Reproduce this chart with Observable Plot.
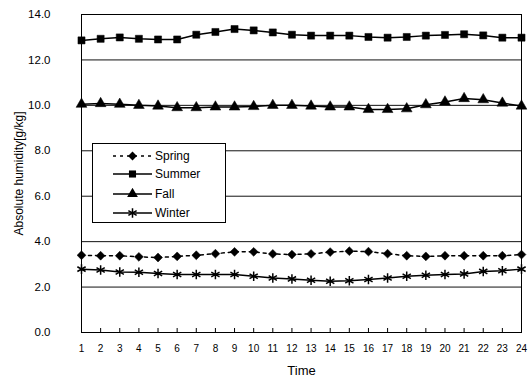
<!DOCTYPE html>
<html><head><meta charset="utf-8">
<script src="https://cdn.jsdelivr.net/npm/d3@7"></script>
<script src="https://cdn.jsdelivr.net/npm/@observablehq/plot@0.6"></script>
<style>
body{margin:0;background:#fff;font-family:"Liberation Sans",Arial,sans-serif;}
#wrap{position:relative;width:528px;height:385px;}
#legend{position:absolute;left:92px;top:143px;width:132px;height:78px;border:1px solid #000;background:#fff;box-sizing:content-box;}
.row{position:absolute;left:0;height:16px;display:flex;align-items:center;font-size:12px;color:#000;}
.row svg{margin-left:20px;margin-right:3px;}
</style></head><body><div id="wrap"></div>
<script>
const hours = [1,2,3,4,5,6,7,8,9,10,11,12,13,14,15,16,17,18,19,20,21,22,23,24];
const yTicks = [0,2,4,6,8,10,12,14];
const gridValues = [2,4,6,8,10,12];
const seasons = ["Spring","Summer","Fall","Winter"];
const spring = [3.40,3.38,3.38,3.33,3.30,3.35,3.40,3.47,3.55,3.55,3.46,3.43,3.46,3.54,3.58,3.56,3.47,3.38,3.35,3.38,3.38,3.38,3.38,3.43];
const summer = [12.86,12.93,12.99,12.93,12.90,12.90,13.11,13.23,13.36,13.30,13.21,13.11,13.07,13.07,13.07,13.01,12.98,13.01,13.07,13.10,13.13,13.08,12.98,12.98];
const fall   = [10.05,10.08,10.05,10.00,9.97,9.90,9.90,9.93,9.93,9.95,10.00,10.00,9.97,9.93,9.93,9.82,9.82,9.85,10.03,10.15,10.30,10.25,10.10,9.97];
const winter = [2.79,2.75,2.66,2.65,2.60,2.55,2.55,2.55,2.55,2.48,2.40,2.36,2.30,2.26,2.28,2.33,2.40,2.48,2.52,2.55,2.58,2.69,2.72,2.79];

const styles = {
  Spring:{symbol:"diamond2", dash:"3,4", r:4},
  Summer:{symbol:"square", dash:null, r:4},
  Fall:{symbol:"triangle", dash:null, r:4},
  Winter:{symbol:"asterisk", dash:null, r:4.5}
};
const valuesBy = {Spring:spring, Summer:summer, Fall:fall, Winter:winter};

const marks = [
  Plot.ruleY(gridValues, {stroke:"#111", strokeWidth:1}),
  Plot.frame({stroke:"#000", strokeWidth:1}),
  Plot.axisY({ticks:yTicks, tickSize:0, tickPadding:31, tickFormat:d=>d.toFixed(1), fontSize:11.5,
    label:"Absolute humidity[g/kg]", labelAnchor:"center", labelArrow:"none", labelOffset:67}),
  Plot.axisX({ticks:hours, tickSize:-4, tickPadding:16, fontSize:10,
    label:"Time", labelAnchor:"center", labelArrow:"none", labelOffset:42})
];
for (const s of seasons) {
  const d = valuesBy[s].map((v,i)=>({hour:hours[i], value:v}));
  const st = styles[s];
  marks.push(Plot.line(d, {x:"hour", y:"value", stroke:"#000", strokeWidth:1.5, strokeDasharray:st.dash}));
  if (st.symbol === "asterisk") {
    marks.push(Plot.dot(d, {x:"hour", y:"value", symbol:st.symbol, r:st.r, stroke:"#000", strokeWidth:1.5}));
  } else {
    marks.push(Plot.dot(d, {x:"hour", y:"value", symbol:st.symbol, r:st.r, fill:"#000", stroke:"#000", strokeWidth:0.5}));
  }
}

const chart = Plot.plot({
  width:528, height:385, marginLeft:81, marginRight:7, marginTop:14, marginBottom:53,
  style:{fontFamily:"Liberation Sans, Arial, sans-serif", fontSize:"11px", color:"#000", background:"#fff"},
  x:{domain:[1,24]},
  y:{domain:[0,14]},
  marks
});
const wrap = document.getElementById("wrap");
wrap.appendChild(chart);
const xl = chart.querySelector('[aria-label="x-axis label"]'); if (xl) xl.style.fontSize = "13px";
const yl = chart.querySelector('[aria-label="y-axis label"]'); if (yl) yl.style.fontSize = "12px";

// legend
const legend = document.createElement("div");
legend.id = "legend";
const rowTops = [4, 22, 42, 61];
const symMap = {diamond2:d3.symbolDiamond2, square:d3.symbolSquare, triangle:d3.symbolTriangle, asterisk:d3.symbolAsterisk};
seasons.forEach((s,i)=>{
  const st = styles[s];
  const row = document.createElement("div");
  row.className = "row";
  row.style.top = rowTops[i] + "px";
  const svg = d3.create("svg").attr("width",39).attr("height",12);
  svg.append("line").attr("x1",0).attr("x2",39).attr("y1",6).attr("y2",6)
    .attr("stroke","#000").attr("stroke-width",1.5).attr("stroke-dasharray", st.dash);
  const size = Math.PI*st.r*st.r;
  const p = svg.append("path").attr("transform","translate(19.5,6)").attr("d", d3.symbol(symMap[st.symbol], size)());
  if (st.symbol==="asterisk") p.attr("fill","none").attr("stroke","#000").attr("stroke-width",1.5);
  else p.attr("fill","#000");
  row.appendChild(svg.node());
  const label = document.createElement("span");
  label.textContent = s;
  row.appendChild(label);
  legend.appendChild(row);
});
wrap.appendChild(legend);
</script>
</body></html>
